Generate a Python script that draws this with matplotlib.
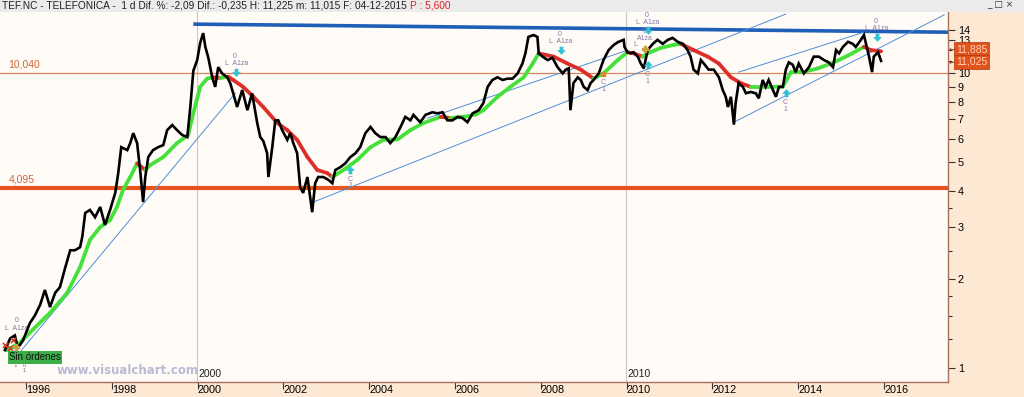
import numpy as np
import matplotlib
matplotlib.use('Agg')
import matplotlib.pyplot as plt
from matplotlib.collections import LineCollection
from matplotlib.patches import Rectangle
from matplotlib.path import Path

# ---------------- data ----------------
price_years = [1995.51, 1995.63, 1995.74, 1995.81, 1995.93, 1996.09, 1996.21, 1996.33, 1996.44, 1996.56,
               1996.68, 1996.79, 1996.91, 1997.03, 1997.14, 1997.26, 1997.31, 1997.38, 1997.49, 1997.61,
               1997.73, 1997.84, 1997.96, 1998.08, 1998.15, 1998.22, 1998.36, 1998.43, 1998.50, 1998.59,
               1998.66, 1998.73, 1998.78, 1998.85, 1998.96, 1999.08, 1999.20, 1999.29, 1999.41, 1999.52,
               1999.64, 1999.76, 1999.83, 1999.90, 1999.99, 2000.06, 2000.13, 2000.18, 2000.25, 2000.34,
               2000.41, 2000.48, 2000.57, 2000.69, 2000.76, 2000.83, 2000.92, 2001.04, 2001.16, 2001.27,
               2001.39, 2001.46, 2001.53, 2001.62, 2001.65, 2001.74, 2001.81, 2001.88, 2001.97, 2002.09,
               2002.16, 2002.23, 2002.32, 2002.39, 2002.46, 2002.56, 2002.67, 2002.74, 2002.81, 2002.93,
               2003.05, 2003.14, 2003.21, 2003.33, 2003.44, 2003.56, 2003.68, 2003.79, 2003.91, 2004.03,
               2004.14, 2004.26, 2004.38, 2004.49, 2004.61, 2004.73, 2004.84, 2004.96, 2005.03, 2005.19,
               2005.31, 2005.47, 2005.59, 2005.71, 2005.82, 2005.94, 2006.06, 2006.17, 2006.29, 2006.41,
               2006.55, 2006.66, 2006.76, 2006.87, 2006.99, 2007.11, 2007.22, 2007.34, 2007.46, 2007.57,
               2007.64, 2007.71, 2007.83, 2007.92, 2007.95, 2008.04, 2008.16, 2008.27, 2008.39, 2008.51,
               2008.58, 2008.65, 2008.69, 2008.76, 2008.86, 2008.93, 2009.00, 2009.09, 2009.16, 2009.23,
               2009.35, 2009.46, 2009.58, 2009.70, 2009.81, 2009.93, 2009.95, 2010.02, 2010.09, 2010.16,
               2010.26, 2010.33, 2010.40, 2010.49, 2010.61, 2010.72, 2010.84, 2010.96, 2011.07, 2011.19,
               2011.31, 2011.42, 2011.49, 2011.56, 2011.66, 2011.73, 2011.80, 2011.91, 2012.03, 2012.15,
               2012.24, 2012.31, 2012.36, 2012.43, 2012.50, 2012.54, 2012.61, 2012.71, 2012.78, 2012.89,
               2013.01, 2013.08, 2013.17, 2013.24, 2013.31, 2013.41, 2013.48, 2013.55, 2013.64, 2013.71,
               2013.78, 2013.87, 2013.94, 2014.01, 2014.13, 2014.25, 2014.36, 2014.48, 2014.60, 2014.71,
               2014.81, 2014.88, 2014.95, 2015.04, 2015.16, 2015.27, 2015.34, 2015.46, 2015.53, 2015.58,
               2015.65, 2015.72, 2015.76, 2015.86, 2015.93]
price_values = [1.15, 1.26, 1.29, 1.17, 1.24, 1.42, 1.51, 1.64, 1.84, 1.61,
                1.80, 1.88, 2.18, 2.51, 2.51, 2.57, 2.78, 3.36, 3.44, 3.25,
                3.52, 3.06, 3.44, 3.93, 4.59, 5.62, 5.49, 5.80, 6.27, 5.80,
                4.70, 3.66, 4.45, 5.20, 5.49, 5.62, 5.71, 6.42, 6.68, 6.42,
                6.18, 6.08, 7.69, 10.2, 11.1, 12.7, 13.7, 12.3, 11.3, 9.7,
                9.0, 10.5, 10.0, 9.7, 9.27, 8.56, 7.69, 8.78, 7.5, 8.56,
                6.78, 6.08, 5.9, 5.36, 4.45, 5.62, 6.93, 6.93, 6.42, 5.95,
                6.27, 5.80, 5.36, 4.11, 3.93, 4.45, 3.38, 4.24, 4.45, 4.45,
                4.35, 4.24, 4.70, 4.81, 4.95, 5.20, 5.36, 5.62, 6.27, 6.58,
                6.27, 6.08, 6.08, 5.80, 6.08, 6.58, 7.12, 6.93, 7.23, 6.83,
                7.23, 7.38, 7.32, 7.38, 6.93, 6.93, 7.12, 7.06, 6.83, 7.32,
                7.5, 7.93, 9.0, 9.5, 9.7, 9.5, 9.6, 9.6, 10.0, 10.8,
                11.7, 13.3, 13.5, 13.3, 11.7, 11.4, 11.1, 11.3, 10.5, 10.0,
                10.3, 10.4, 7.5, 9.27, 9.7, 9.5, 9.0, 8.78, 9.27, 9.5,
                10.0, 11.1, 12.0, 12.5, 12.8, 13.0, 12.3, 11.8, 11.7, 11.8,
                11.4, 10.8, 10.4, 12.0, 12.6, 13.0, 12.6, 13.0, 13.2, 12.8,
                12.6, 12.0, 11.4, 10.3, 10.0, 11.1, 10.8, 10.3, 10.3, 9.7,
                8.78, 8.33, 7.69, 8.33, 6.7, 7.93, 9.27, 9.0, 8.56, 8.65,
                8.56, 8.23, 9.5, 9.0, 9.5, 8.78, 8.33, 9.0, 9.0, 10.3,
                10.9, 10.7, 10.1, 10.8, 10.0, 10.5, 11.4, 11.4, 11.1, 10.9,
                10.5, 12.0, 11.7, 12.3, 12.8, 12.6, 12.3, 13.0, 13.5, 12.6,
                11.4, 10.1, 11.4, 11.8, 11.025]

ma_years = [1995.56, 1995.86, 1996.16, 1996.56, 1996.96, 1997.26, 1997.49, 1997.73, 1997.96, 1998.12,
            1998.26, 1998.43, 1998.59, 1998.78, 1998.89, 1999.20, 1999.52, 1999.78, 1999.90, 2000.06,
            2000.22, 2000.36, 2000.53, 2000.71, 2000.83, 2001.06, 2001.30, 2001.53, 2001.86, 2002.09,
            2002.32, 2002.56, 2002.79, 2003.02, 2003.14, 2003.40, 2003.72, 2004.03, 2004.33, 2004.66,
            2004.96, 2005.26, 2005.66, 2005.89, 2006.20, 2006.48, 2006.66, 2006.99, 2007.29, 2007.60,
            2007.81, 2007.95, 2008.30, 2008.62, 2008.93, 2009.23, 2009.46, 2009.79, 2010.02, 2010.16,
            2010.37, 2010.49, 2010.79, 2011.10, 2011.26, 2011.56, 2011.89, 2012.15, 2012.43, 2012.66,
            2012.89, 2013.29, 2013.64, 2013.83, 2014.13, 2014.46, 2014.83, 2015.16, 2015.53, 2015.69,
            2015.93]
ma_values = [1.15, 1.22, 1.35, 1.54, 1.80, 2.20, 2.72, 3.01, 3.18, 3.52,
             4.02, 4.45, 4.95, 4.70, 4.88, 5.20, 5.80, 6.18, 7.33, 9.0,
             9.6, 9.7, 9.65, 9.75, 9.5, 9.0, 8.33, 7.69, 6.78, 6.42,
             5.95, 5.20, 4.70, 4.59, 4.45, 4.70, 5.08, 5.62, 5.95, 5.97,
             6.42, 6.78, 7.12, 7.06, 7.12, 7.25, 7.5, 8.33, 9.0, 9.7,
             10.8, 11.7, 11.4, 10.8, 10.3, 9.6, 10.0, 11.1, 11.8, 11.7,
             11.4, 11.7, 12.2, 12.5, 12.6, 12.0, 11.4, 10.8, 9.7, 9.27,
             9.0, 9.0, 9.02, 10.1, 10.12, 10.4, 10.9, 11.5, 12.3, 12.0,
             11.885]

level_values = [10.040, 4.095]
level_labels = ['10,040', '4,095']

resistance_years = [1999.90, 2017.50]
resistance_values = [14.7, 13.8]

trend1_years = [1995.86, 2000.88]
trend1_values = [1.133, 8.58]
trend2_years = [2002.70, 2013.71]
trend2_values = [3.66, 15.9]
trend3_years = [2005.36, 2010.02]
trend3_values = [7.05, 11.99]
trend4_years = [2012.50, 2017.40]
trend4_values = [6.83, 15.8]
trend5_years = [2012.61, 2015.53]
trend5_values = [10.1, 13.8]

sell_years = [2000.90, 2008.46, 2010.49, 2015.83]
sell_values = [10.1, 12.0, 14.0, 13.3]
buy_years = [2003.56, 2010.49, 2013.71]
buy_values = [4.70, 10.65, 8.56]

year_ticks = [1996, 1998, 2000, 2002, 2004, 2006, 2008, 2010, 2012, 2014, 2016]
price_ticks = [1, 2, 3, 4, 5, 6, 7, 8, 9, 10, 13, 14]
price_minor = [1.25, 1.5, 1.75, 2.5, 3.5, 11, 12]

header_text = "TEF.NC - TELEFONICA -  1 d Dif. %: -2,09 Dif.: -0,235 H: 11,225 m: 11,015 F: 04-12-2015 "
header_p = "P : 5,600"
last_labels = ['11,885', '11,025']

# ---------------- figure ----------------
FONT = ['Liberation Sans Narrow', 'Liberation Sans', 'DejaVu Sans']
plt.rcParams['font.family'] = FONT

W, H = 1024, 397
fig = plt.figure(figsize=(W / 100, H / 100), dpi=100)
fig.patch.set_facecolor('#fde8d4')

# title bar
fig.patches.append(Rectangle((0, 1 - 12 / H), 1, 12 / H, transform=fig.transFigure,
                             facecolor='#ebebeb', edgecolor='none', zorder=0))
t = fig.text(2 / W, 1 - 6 / H, header_text, fontsize=7.3, va='center', ha='left', color='#222222')
fig.canvas.draw()
bb = t.get_window_extent()
fig.text(bb.x1 / W, 1 - 6 / H, header_p, fontsize=7.3, va='center', ha='left', color='#e02020')
fig.text(1000 / W, 1 - 5 / H, "_ □ ×", fontsize=6.5, va='center', ha='center', color='#333333',
         family=['DejaVu Sans'])

ax = fig.add_axes([0, 15 / H, 948 / W, 370 / H])
ax.set_facecolor('#fffbf7')
ax.set_yscale('log')
ax.set_xlim(1995.394, 2017.49)
ax.set_ylim(0.8965, 16.16)

# vertical year separators
for yr, lab in [(2000, '2000'), (2010, '2010')]:
    ax.axvline(yr - 0.02, color='#c8c8c8', lw=0.8, zorder=1)
    ax.annotate(lab, (yr - 0.02, 0), xycoords=('data', 'axes fraction'), xytext=(1.5, 2),
                textcoords='offset points', fontsize=7.5, ha='left', va='bottom', color='#222222')

# horizontal levels
ax.axhline(level_values[0], color='#d9845e', lw=0.9, zorder=2)
ax.axhline(level_values[1], color='#e8541e', lw=3.0, zorder=2)
for v, lab in zip(level_values, level_labels):
    ax.annotate(lab, (0, v), xycoords=('axes fraction', 'data'), xytext=(6, 2.5),
                textcoords='offset points', fontsize=7.5, color='#cf6538', ha='left', va='bottom')

# resistance line
ax.plot(resistance_years, resistance_values, color='#1f5fb8', lw=2.6, zorder=2, solid_capstyle='butt')

# thin trend lines
for ty, tv in [(trend1_years, trend1_values), (trend2_years, trend2_values), (trend3_years, trend3_values),
               (trend4_years, trend4_values), (trend5_years, trend5_values)]:
    ax.plot(ty, tv, color='#4f8fd6', lw=0.7, zorder=2)

# moving average, coloured by direction
mx = np.array(ma_years)
my = np.array(ma_values)
segs = [[(mx[i], my[i]), (mx[i + 1], my[i + 1])] for i in range(len(mx) - 1)]
cols = ['#46e03a' if my[i + 1] >= my[i] else '#dc2f2a' for i in range(len(mx) - 1)]
lc = LineCollection(segs, colors=cols, linewidths=2.7, capstyle='round', zorder=3)
ax.add_collection(lc)

# price
ax.plot(price_years, price_values, color='black', lw=1.9, zorder=4, solid_joinstyle='miter')

# signal markers
down_arrow = Path([(-0.3, 0.6), (0.3, 0.6), (0.3, 0.05), (0.7, 0.05), (0, -0.7), (-0.7, 0.05), (-0.3, 0.05), (-0.3, 0.6)])
up_arrow = Path([(x, -y) for x, y in down_arrow.vertices])
ax.scatter(sell_years, sell_values, marker=down_arrow, s=40, color='#31c3d3', zorder=6, linewidths=0)
ax.scatter(buy_years, buy_values, marker=up_arrow, s=40, color='#31c3d3', zorder=6, linewidths=0)
for x, v in zip(sell_years, sell_values):
    ax.annotate('0', (x, v), xytext=(-1, 11), textcoords='offset points', fontsize=5, color='#8a74a8',
                ha='center', va='center', zorder=7)
    ax.annotate('L  A1za', (x, v), xytext=(0, 6), textcoords='offset points', fontsize=5, color='#8a74a8',
                ha='center', va='center', zorder=7)
for x, v in zip(buy_years, buy_values):
    ax.annotate('C', (x, v), xytext=(-0.5, -6.5), textcoords='offset points', fontsize=5, color='#8a74a8',
                ha='center', va='center', zorder=7)
    ax.annotate('1', (x, v), xytext=(0, -11.5), textcoords='offset points', fontsize=5, color='#8a74a8',
                ha='center', va='center', zorder=7)

# other small markers
ax.scatter([2009.46], [9.95], marker='s', s=12, color='#e8842c', zorder=6)
ax.annotate('C', (2009.46, 9.95), xytext=(0, -6), textcoords='offset points', fontsize=5, color='#8a74a8', ha='center', va='center')
ax.annotate('1', (2009.46, 9.95), xytext=(0, -11), textcoords='offset points', fontsize=5, color='#8a74a8', ha='center', va='center')
ax.scatter([2010.42], [12.1], marker='P', s=22, color='#c9a24a', zorder=6)
ax.annotate('0\nA1za', (2010.42, 12.1), xytext=(0, 10), textcoords='offset points', fontsize=5, color='#8a74a8',
            ha='center', va='center', linespacing=1.0)
ax.annotate('L', (2010.2, 12.5), xytext=(0, 0), textcoords='offset points', fontsize=5, color='#8a74a8', ha='center', va='center')
ax.scatter([1995.50, 1995.62, 1995.70], [1.20, 1.17, 1.24], marker='x', s=14, color='#d2402a', zorder=6, linewidths=1.2)
ax.scatter([1995.76], [1.18], marker='P', s=20, color='#c9a24a', zorder=6)
ax.annotate('0', (1995.78, 1.26), xytext=(0, 13), textcoords='offset points', fontsize=5, color='#8a74a8', ha='center', va='center')
ax.annotate('L  A1za', (1995.78, 1.26), xytext=(0, 7), textcoords='offset points', fontsize=5, color='#8a74a8', ha='center', va='center')

# watermark and "Sin órdenes" box
ax.text(57 / 948, (382 - 371) / 370, 'www.visualchart.com', transform=ax.transAxes, fontsize=8.5,
        fontweight='bold', color='#b7bbd6', ha='left', va='center', family=['DejaVu Sans'], zorder=8)
ax.text(9 / 948, (382 - 357.5) / 370, 'Sin órdenes', transform=ax.transAxes, fontsize=7, color='#111111',
        ha='left', va='center', zorder=9,
        bbox=dict(boxstyle='square,pad=0.15', facecolor='#3daf4a', edgecolor='none'))
ax.text(14 / 948, (382 - 368) / 370, '1   0\n     1', transform=ax.transAxes, fontsize=4.5, color='#8a74a8',
        ha='left', va='center', linespacing=1.0, zorder=8)

# axes styling
for s in ['left', 'top']:
    ax.spines[s].set_visible(False)
for s in ['bottom', 'right']:
    ax.spines[s].set_color('#a7705a')
    ax.spines[s].set_linewidth(1.0)

ax.set_xticks(year_ticks)
ax.set_xticklabels([str(y) for y in year_ticks])
ax.tick_params(axis='x', direction='out', length=5, width=0.8, color='#333333', pad=-2.5, labelsize=7.8)
for lbl in ax.get_xticklabels():
    lbl.set_ha('left')

ax.yaxis.tick_right()
ax.set_yticks(price_ticks)
ax.set_yticklabels([str(v) for v in price_ticks])
ax.set_yticks(price_minor, minor=True)
ax.set_yticklabels([], minor=True)
ax.tick_params(axis='y', which='major', direction='out', length=5, width=0.8, color='#333333', pad=2, labelsize=7.8)
ax.tick_params(axis='y', which='minor', direction='out', length=3, width=0.8, color='#333333')

# last value boxes on the right axis
for yy, lab in zip([49, 62], last_labels):
    fig.text(956 / W, 1 - yy / H, lab, fontsize=7.5, color='#ffd4b8', ha='left', va='center',
             bbox=dict(boxstyle='square,pad=0.15', facecolor='#e2521c', edgecolor='#b03a10', lw=0.5))
    fig.text(949 / W, 1 - yy / H, '←', fontsize=5.5, color='#8a3010', ha='left', va='center',
             family=['DejaVu Sans'])

fig.savefig('out.png', dpi=100, facecolor=fig.get_facecolor())
